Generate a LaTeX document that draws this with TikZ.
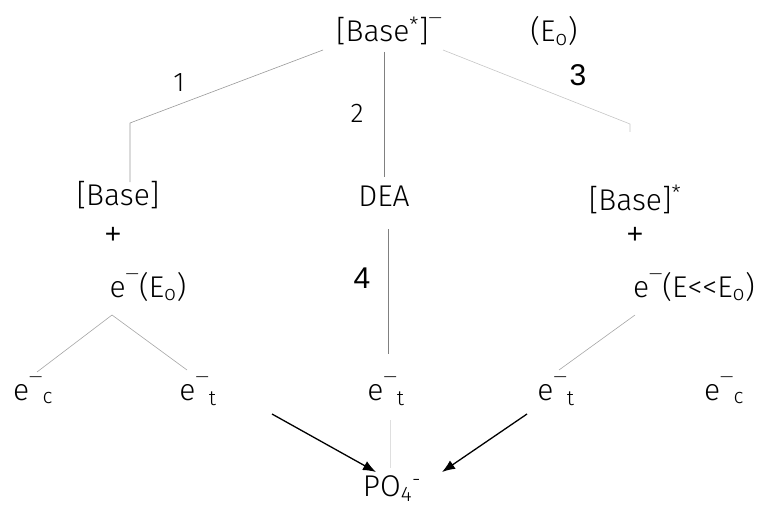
\documentclass[tikz,border=0pt]{standalone}
\usepackage{fontspec}
\setmainfont{Fira Sans Light}
\newfontfamily\numfont{Liberation Sans}
\usetikzlibrary{arrows.meta}

\newcommand{\ebar}{\raisebox{0.6em}{\fontsize{17}{17}\selectfont\textemdash}}

\begin{document}
\begin{tikzpicture}[x=1pt, y=-1pt]

  \useasboundingbox (0,0) rectangle (768,508);

  %% Styles
  \tikzset{
    lbl/.style={inner sep=0pt, anchor=base, font=\fontsize{30}{34}\selectfont},
    num/.style={inner sep=0pt, font=\numfont\fontsize{30}{34}\selectfont},
    thinnum/.style={inner sep=0pt, font=\fontsize{27}{30}\selectfont},
    plus/.style={inner sep=0pt, font=\numfont\fontsize{28}{30}\selectfont},
    branch/.style={line width=0.6pt, gray},
    react/.style={-{Latex[length=13pt, width=10pt]}, line width=1.3pt, black}
  }

  %% Top species and energies
  \node[lbl] (anion) at (389,42) {[Base\textsuperscript{*}]\ebar};
  \node[lbl] (eo)    at (554,42) {(E\textsubscript{o})};

  %% Channel numbers
  \node[thinnum] (c1) at (179,83)  {1};
  \node[thinnum] (c2) at (357,113) {2};
  \node[num]     (c3) at (578,75)  {3};
  \node[num]     (c4) at (362,278) {4};

  %% Middle row
  \node[lbl] (base)   at (118,205) {[Base]};
  \node[lbl] (dea)    at (384,206) {DEA};
  \node[lbl] (basex)  at (635,210) {[Base]\textsuperscript{*}};
  \node[plus] (plusl) at (113,235) {+};
  \node[plus] (plusr) at (635,235) {+};
  \node[lbl] (elfast) at (148,297) {e\ebar(E\textsubscript{o})};
  \node[lbl] (elslow) at (694,297) {e\ebar(E{<}{<}E\textsubscript{o})};

  %% Bottom row of electrons
  \foreach \n/\x/\s in {ecl/33/c, etl/198/t, etm/386/t, etr/556/t, ecr/724/c}{
    \node[lbl] (\n) at (\x,400) {e\ebar\textsubscript{\s}};
  }
  \node[lbl] (po4) at (392,496) {PO\textsubscript{4}\textsuperscript{-}};

  %% Branch points
  \coordinate (s1) at (323,50);  \coordinate (k1) at (130,123); \coordinate (b1) at (130,182);
  \coordinate (s2) at (384,52);  \coordinate (b2) at (384,177);
  \coordinate (s3) at (443,50);  \coordinate (k3) at (630,124); \coordinate (b3) at (630,132);
  \coordinate (s4) at (388,229); \coordinate (b4) at (388,354);
  \coordinate (al) at (112,315); \coordinate (ll) at (37,372);  \coordinate (lr) at (187,370);
  \coordinate (ar) at (635,315); \coordinate (rl) at (559,370);
  \coordinate (ms) at (390,420); \coordinate (me) at (390,468);
  \coordinate (pl) at (272,414); \coordinate (tl) at (376,472);
  \coordinate (pr) at (527,414); \coordinate (tr) at (442,472);

  %% Decay channels
  \draw[branch, gray!80] (s1) -- (k1) -- (b1);
  \draw[branch] (s2) -- (b2);
  \draw[branch, gray!45] (s3) -- (k3) -- (b3);
  \draw[branch] (s4) -- (b4);
  \draw[branch, gray!70] (ll) -- (al) -- (lr);
  \draw[branch, gray!70] (ar) -- (rl);
  \draw[branch, gray!25] (ms) -- (me);

  %% Trapped electrons to phosphate
  \draw[react] (pl) -- (tl);
  \draw[react] (pr) -- (tr);

\end{tikzpicture}
\end{document}
